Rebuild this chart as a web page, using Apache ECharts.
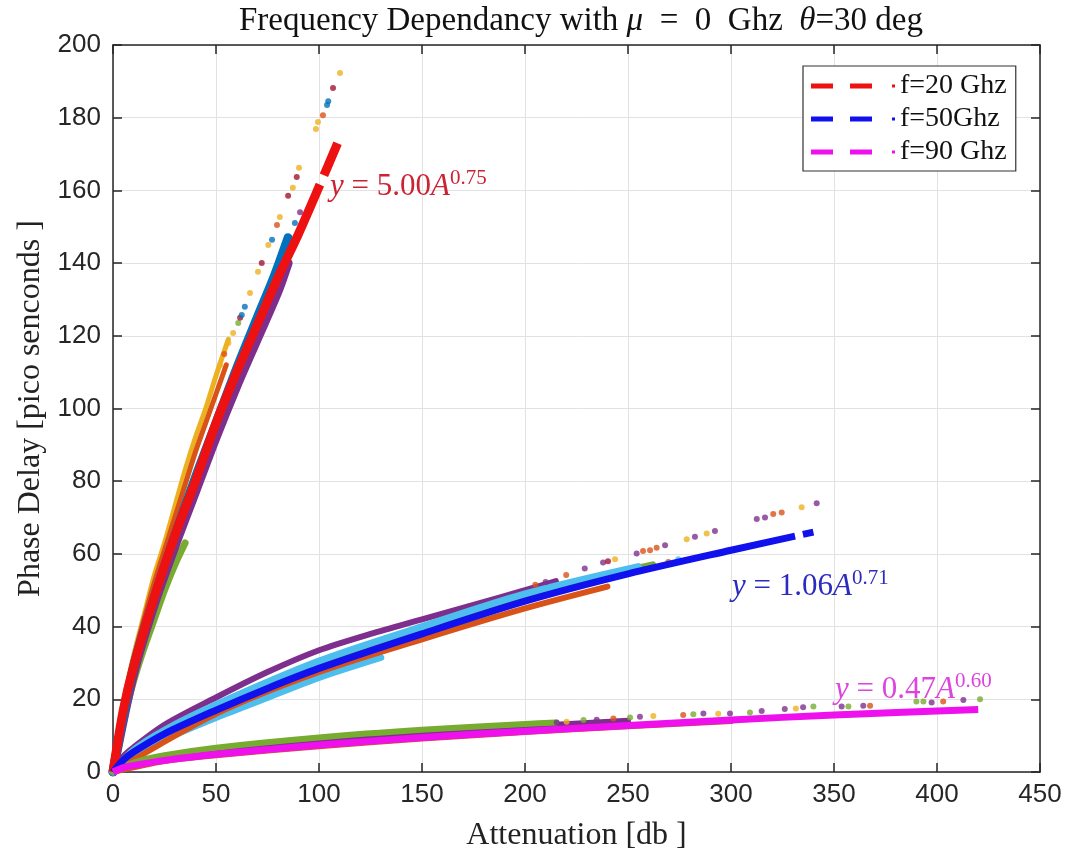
<!DOCTYPE html>
<html>
<head>
<meta charset="utf-8">
<script src="https://cdn.jsdelivr.net/npm/echarts@6/dist/echarts.min.js"></script>
<style>html,body{margin:0;padding:0;background:#fff}#c{width:1075px;height:862px}</style>
</head>
<body>
<div id="c"></div>
<script>
// ---- data ----
const PALETTE = ['#0072BD', '#D95319', '#EDB120', '#7E2F8E', '#77AC30', '#4DBEEE', '#A2142F'];
const legendNames = ['f=20 Ghz', 'f=50Ghz', 'f=90 Ghz'];
const xRange = [0, 450, 50];
const yRange = [0, 200, 20];

// fitted curves
const fit20 = [[0,0],[5,17],[10,29],[20,48],[30,65],[40,80],[50,96],[60,110],[70,123],[80,136],[90,148],[100,161],[109,173]];
const fit50 = [[0,0],[5,3.3],[10,5.5],[25,10.5],[50,17],[75,23],[100,28.5],[150,38],[200,47],[250,54.5],[300,61],[340,66]];
const fit90 = [[0,0],[5,1.2],[10,1.8],[25,3.2],[50,4.9],[100,7.4],[150,9.5],[200,11.2],[250,12.8],[300,14.3],[350,15.7],[420,17.2]];

// dense bands of measured points  [x, y]
const band20Yellow = [[0,0],[5,19],[10,32],[15,43],[20,54],[25,63],[30,73],[35,83],[40,92],[45,100],[50,109],[56,119]];
const band20Orange = [[0,0],[5,18],[10,31],[15,42],[20,52],[25,61],[30,70],[35,79],[40,88],[45,96],[50,104],[55,112]];
const band20Blue   = [[0,0],[10,29],[20,48],[30,65],[40,81],[50,96],[60,111],[70,125],[78,136],[85,147]];
const band20Purple = [[0,0],[10,27],[20,46],[30,62],[40,77],[50,92],[60,106],[70,119],[80,132],[85,140]];
const band20Green  = [[0,0],[5,14],[10,25],[15,34],[20,42],[25,50],[30,57],[35,63]];

const band50Purple = [[0,0],[5,4.3],[10,6.8],[25,13],[50,20.5],[75,27.5],[100,33.5],[125,38],[150,42],[175,46],[200,50],[215,52.5]];
const band50Cyan   = [[0,0],[5,2.5],[10,4.5],[25,9],[50,15],[75,20.5],[100,26],[130,31.5]];
const band50Green  = [[0,0],[10,6],[25,11],[50,18],[100,30],[150,39.5],[200,48.5],[250,55.5],[262,57]];
const band50Sky    = [[0,0],[10,6],[25,11.5],[50,18.5],[100,30.5],[150,40],[200,49],[255,56.5]];
const band50Orange = [[0,0],[50,16],[100,27.5],[150,36.5],[200,45],[240,51]];

const band90Green  = [[0,0],[10,2.6],[25,4.6],[50,6.7],[100,9.5],[150,11.6],[200,13.2],[215,13.6]];
const band90Purple = [[0,0],[25,3.9],[50,5.9],[100,8.6],[150,10.7],[200,12.5],[250,14.1]];
const band90Orange = [[0,0],[25,3],[50,4.6],[100,7.1],[150,9.2],[200,11],[250,12.6],[300,14]];

// isolated points [x, y, colour index]
const tail20 = [[52,112,2],[54,115,1],[56,118,2],[58.3,120.8,2],[60.8,123.5,4],[61.7,125,6],[62.5,125.7,0],[64,128,0],[66.5,131.8,2],[70.4,137.6,2],[72.2,140,6],[75.4,145,2],[77.2,146.4,0],[79.6,150.5,1],[81,152.7,2],[85,158.5,6],[87.3,160.7,2],[89.2,163.7,6],[90.3,166.2,2],[88.3,151,0],[90.8,154,3],[98.5,176.9,2],[99.5,178.8,2],[101.9,180.7,1],[103.9,183.5,0],[104.5,184.5,0],[106.8,188.2,6],[110.2,192.3,2]];
const tail50 = [[205,51.5,1],[210,52.3,3],[220,54.2,1],[229,56,3],[237.9,57.6,3],[240.3,58,6],[243.7,58.5,2],[254.2,60.1,3],[257.3,60.8,1],[260.7,61,1],[263.9,61.7,1],[268,62.4,3],[278.5,64,2],[282.5,64.7,3],[288.2,65.6,2],[292.2,66.3,3],[312.5,69.6,3],[316.5,70,3],[320.5,71,1],[324.6,71.4,1],[334.3,72.8,2],[341.6,73.9,3],[252,55,4],[258,55.8,0],[262.3,56.3,4],[269.6,57.8,1],[274.4,58.5,5]];
const tail90 = [[215.4,13.6,3],[220.2,13.8,2],[228.4,14.3,4],[234.8,14.4,3],[242.9,14.7,1],[251,15,4],[255.8,15.2,3],[262.3,15.4,2],[276.8,15.7,1],[281.7,15.9,4],[286.6,16.1,3],[293.8,16,2],[299.5,16.1,3],[309.2,16.4,4],[314.9,16.8,3],[326.1,17.3,3],[331.5,17.5,2],[335,17.8,3],[340,18,4],[353.7,18,3],[357,18,4],[364.2,18.2,3],[367.5,18.2,1],[390,19.4,4],[393.4,19.4,4],[397.4,19.1,3],[403,19.4,1],[412.8,19.8,3],[420.9,20,4]];

// ---- chart ----
const SERIF = 'Liberation Serif';
const SANS = 'Liberation Sans';

function band(data, ci, w) {
  return { type: 'line', data: data, symbol: 'none', silent: true, z: 2, smooth: 0.3,
    lineStyle: { color: PALETTE[ci], width: w || 6, cap: 'round' } };
}
function dots(data) {
  return { type: 'scatter', data: data, symbolSize: 6, silent: true, z: 3,
    itemStyle: { color: p => PALETTE[p.value[2]] } };
}
function fit(name, data, color, width, dash) {
  return { type: 'line', name: name, data: data, symbol: 'none', z: 4, color: color, smooth: 0.3,
    lineStyle: { color: color, width: width, type: dash || 'solid' } };
}
function annot(left, top, txt, color) {
  return { type: 'text', left: left, top: top, z: 10, style: {
    text: txt, fill: color, fontFamily: SERIF, fontSize: 31,
    rich: { i: { fontFamily: SERIF, fontSize: 31, fontStyle: 'italic', fill: color, lineHeight: 38 },
            n: { fontFamily: SERIF, fontSize: 31, fill: color, lineHeight: 38 },
            s: { fontFamily: SERIF, fontSize: 21, fill: color, verticalAlign: 'top', lineHeight: 38 } } } };
}

const axisCommon = {
  type: 'value',
  axisLine: { show: true, onZero: false, lineStyle: { color: '#262626', width: 1.5 } },
  axisTick: { show: true, inside: true, length: 9, lineStyle: { color: '#262626', width: 1.5 } },
  splitLine: { show: true, lineStyle: { color: '#e2e2e2', width: 1 } },
  axisLabel: { fontFamily: SANS, fontSize: 26, color: '#262626' }
};

const option = {
  animation: false,
  backgroundColor: '#fff',
  title: {
    text: 'Frequency Dependancy with {i|μ}  =  0  Ghz  {i|θ}=30 deg',
    left: 576, top: 0, textAlign: 'center',
    textStyle: { fontFamily: SERIF, fontSize: 33, fontWeight: 'normal', color: '#111',
      rich: { i: { fontFamily: SERIF, fontSize: 33, fontStyle: 'italic', color: '#111' } } }
  },
  grid: { left: 113, right: 35, top: 45, bottom: 90 },
  legend: {
    data: legendNames, orient: 'vertical', left: 803, top: 66,
    selectedMode: false,
    icon: 'path://M0,0H22V5H0Z M39,0H61V5H39Z M81,1H84V4H81Z',
    itemWidth: 84, itemHeight: 5, itemGap: 5,
    padding: [6, 9, 5, 8],
    borderColor: '#333', borderWidth: 1.2, backgroundColor: '#fff',
    textStyle: { fontFamily: SERIF, fontSize: 28, color: '#111', lineHeight: 27 }
  },
  xAxis: [
    Object.assign({}, axisCommon, { min: xRange[0], max: xRange[1], interval: xRange[2], position: 'bottom',
      name: 'Attenuation [db ]', nameLocation: 'middle', nameGap: 48,
      nameTextStyle: { fontFamily: SERIF, fontSize: 32, color: '#222' },
      axisLabel: Object.assign({}, axisCommon.axisLabel, { margin: 10 }) }),
    Object.assign({}, axisCommon, { min: xRange[0], max: xRange[1], interval: xRange[2], position: 'top',
      axisLabel: { show: false }, splitLine: { show: false } })
  ],
  yAxis: [
    Object.assign({}, axisCommon, { min: yRange[0], max: yRange[1], interval: yRange[2], position: 'left',
      name: 'Phase Delay [pico senconds ]', nameLocation: 'middle', nameGap: 62, nameRotate: 90,
      nameTextStyle: { fontFamily: SERIF, fontSize: 32, color: '#222' },
      axisLabel: Object.assign({}, axisCommon.axisLabel, { margin: 12 }) }),
    Object.assign({}, axisCommon, { min: yRange[0], max: yRange[1], interval: yRange[2], position: 'right',
      axisLabel: { show: false }, splitLine: { show: false } })
  ],
  series: [
    band(band20Yellow, 2, 5), band(band20Orange, 1, 5), band(band20Green, 4, 7),
    band(band20Purple, 3, 9), band(band20Blue, 0, 9),
    band(band50Purple, 3, 6), band(band50Cyan, 5, 7), band(band50Orange, 1, 6),
    band(band50Green, 4, 7), band(band50Sky, 5, 7),
    band(band90Purple, 3, 6), band(band90Orange, 1, 6), band(band90Green, 4, 6),
    dots(tail20), dots(tail50), dots(tail90),
    fit(legendNames[0], fit20, '#ee1111', 9, [625, 10]),
    fit(legendNames[1], fit50, '#1111ee', 7, [727, 8]),
    fit(legendNames[2], fit90, '#ee11ee', 7)
  ],
  graphic: [
    annot(330, 168, '{i|y} = 5.00{i|A}{s|0.75}', '#cc2233'),
    annot(732, 568, '{i|y} = 1.06{i|A}{s|0.71}', '#2b2bbf'),
    annot(835, 671, '{i|y} = 0.47{i|A}{s|0.60}', '#dd44dd')
  ]
};

const chart = echarts.init(document.getElementById('c'), null, { renderer: 'canvas' });
chart.setOption(option);
</script>
</body>
</html>
